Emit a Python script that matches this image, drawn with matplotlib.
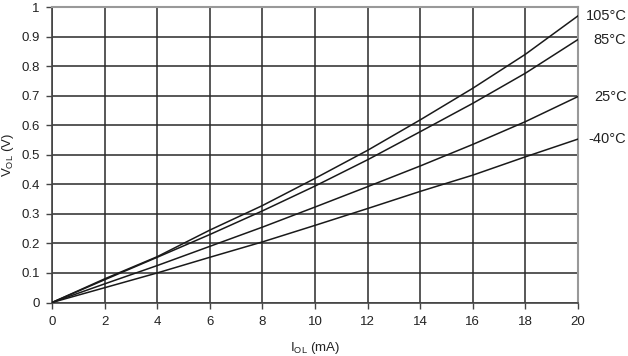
import matplotlib
matplotlib.use("Agg")
import matplotlib.pyplot as plt
import numpy as np

plt.rcParams['font.family'] = ['Liberation Sans', 'DejaVu Sans']

i_ol = [0, 2, 4, 6, 8, 10, 12, 14, 16, 18, 20]
v_105 = [0, 0.080, 0.155, 0.245, 0.328, 0.420, 0.515, 0.618, 0.725, 0.840, 0.970]
v_85 = [0, 0.077, 0.153, 0.230, 0.310, 0.394, 0.483, 0.578, 0.674, 0.776, 0.890]
v_25 = [0, 0.063, 0.125, 0.190, 0.255, 0.323, 0.392, 0.462, 0.535, 0.612, 0.697]
v_m40 = [0, 0.050, 0.100, 0.153, 0.205, 0.261, 0.318, 0.376, 0.431, 0.493, 0.553]
series = [("105°C", v_105), ("85°C", v_85), ("25°C", v_25), ("-40°C", v_m40)]

x_ticks = [0, 2, 4, 6, 8, 10, 12, 14, 16, 18, 20]
y_ticks = [0, 0.1, 0.2, 0.3, 0.4, 0.5, 0.6, 0.7, 0.8, 0.9, 1]
y_ticklabels = ["0", "0.1", "0.2", "0.3", "0.4", "0.5", "0.6", "0.7", "0.8", "0.9", "1"]

fig = plt.figure(figsize=(6.28, 3.56), dpi=100)
ax = fig.add_axes([52/628, 53.5/356, 526/628, 295.5/356])

for name, v in series:
    ax.plot(i_ol, v, color='#1a1a1a', lw=1.1, zorder=3)
    ax.text(1.092, v[-1], name, transform=ax.get_yaxis_transform(),
            ha='right', va='center', fontsize=10.5, color='#222222')

ax.set_xlim(0, 20)
ax.set_ylim(0, 1)
ax.set_xticks(x_ticks)
ax.set_xticklabels([str(t) for t in x_ticks])
ax.set_yticks(y_ticks)
ax.set_yticklabels(y_ticklabels)
ax.grid(True, color='#2a2a2a', lw=1.1)
ax.set_axisbelow(True)

for s in ['top', 'right']:
    ax.spines[s].set_color('#999999')
    ax.spines[s].set_linewidth(1.5)
for s in ['left', 'bottom']:
    ax.spines[s].set_color('#444444')
    ax.spines[s].set_linewidth(1.2)

ax.tick_params(axis='both', direction='out', length=4, width=1, color='#444444',
               labelsize=9.5, labelcolor='#222222')
ax.tick_params(axis='x', pad=6)
ax.tick_params(axis='y', pad=5)

ax.set_xlabel(r'I$_{\mathregular{OL}}$ (mA)', fontsize=9.5, color='#222222')
ax.set_ylabel(r'V$_{\mathregular{OL}}$ (V)', fontsize=9.5, color='#222222')
ax.xaxis.set_label_coords(0.5, -0.128)
ax.yaxis.set_label_coords(-0.068, 0.5)

fig.savefig('out.png', dpi=100)
